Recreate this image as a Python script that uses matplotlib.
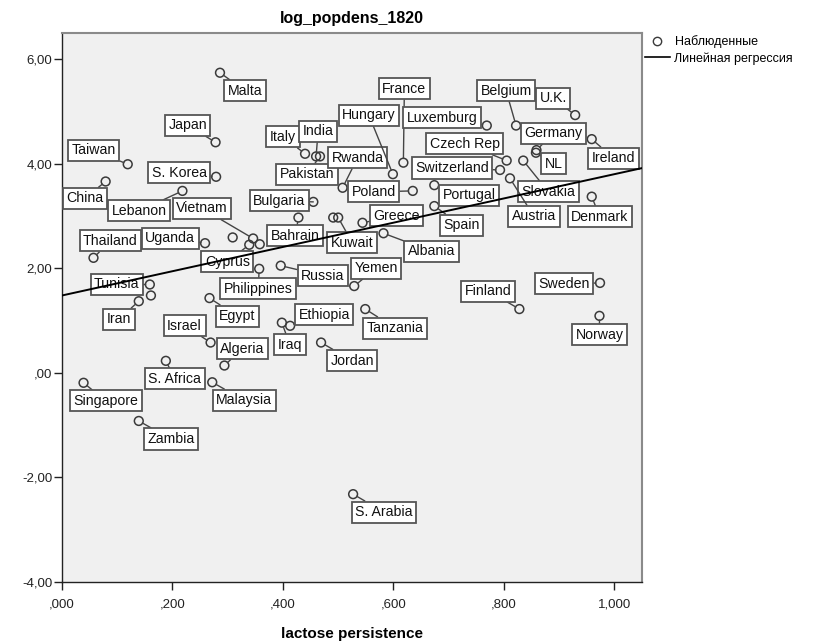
import matplotlib
matplotlib.use("Agg")
import matplotlib.pyplot as plt
from matplotlib.lines import Line2D
import numpy as np

plt.rcParams['font.family'] = ['Liberation Sans', 'DejaVu Sans']

# ---------------- data ----------------
countries = ["Malta", "Japan", "Taiwan", "S. Korea", "China", "Lebanon",
             "Italy", "India", "Pakistan", "Rwanda", "Bulgaria", "Bahrain", "Kuwait",
             "France", "Hungary", "Luxemburg", "Belgium", "U.K.", "Ireland",
             "Germany", "NL", "Czech Rep", "Switzerland", "Slovakia", "Austria",
             "Denmark", "Poland", "Portugal", "Spain", "Greece", "Albania",
             "Yemen", "Tanzania", "Finland", "Sweden", "Norway", "Jordan",
             "S. Arabia", "Thailand", "Uganda", "Vietnam", "Cyprus",
             "Philippines", "Russia", "Tunisia", "Iran", "Egypt", "Israel",
             "Algeria", "Ethiopia", "Iraq", "S. Africa", "Malaysia",
             "Singapore", "Zambia"]
lactose = [0.286, 0.278, 0.119, 0.279, 0.079, 0.218,
           0.440, 0.460, 0.467, 0.508, 0.455, 0.428, 0.500,
           0.618, 0.599, 0.769, 0.822, 0.929, 0.959,
           0.859, 0.858, 0.805, 0.793, 0.835, 0.811,
           0.959, 0.635, 0.674, 0.674, 0.544, 0.582,
           0.529, 0.549, 0.828, 0.974, 0.973, 0.469,
           0.527, 0.057, 0.259, 0.346, 0.339,
           0.357, 0.396, 0.159, 0.139, 0.267, 0.269,
           0.294, 0.413, 0.398, 0.188, 0.272,
           0.039, 0.139]
popdens = [5.74, 4.41, 3.99, 3.75, 3.66, 3.48,
           4.19, 4.14, 4.14, 3.54, 3.27, 2.97, 2.97,
           4.02, 3.80, 4.73, 4.73, 4.93, 4.47,
           4.26, 4.21, 4.06, 3.88, 4.06, 3.72,
           3.37, 3.48, 3.59, 3.19, 2.87, 2.67,
           1.66, 1.22, 1.22, 1.72, 1.09, 0.58,
           -2.32, 2.20, 2.48, 2.57, 2.45,
           1.99, 2.05, 1.69, 1.37, 1.43, 0.58,
           0.14, 0.90, 0.96, 0.23, -0.18,
           -0.19, -0.92]
# points without a visible label
unlabeled_x = [0.491, 0.309, 0.358, 0.161]
unlabeled_y = [2.97, 2.59, 2.46, 1.48]

# fitted linear regression (intercept, slope)
reg_intercept = 1.48
reg_slope = 2.32

x_ticks = [0.0, 0.2, 0.4, 0.6, 0.8, 1.0]
x_ticklabels = [",000", ",200", ",400", ",600", ",800", "1,000"]
y_ticks = [-4, -2, 0, 2, 4, 6]
y_ticklabels = ["-4,00", "-2,00", ",00", "2,00", "4,00", "6,00"]

# ---------------- layout: label offsets in pixels (dx right, dy up) ----------------
label_offsets = {
    "Malta": (25, -18), "Japan": (-28, 17), "Taiwan": (-34, 14), "S. Korea": (-37, 4),
    "China": (-21, -17), "Lebanon": (-43, -20), "Italy": (-22, 17), "India": (2, 25),
    "Pakistan": (-13, -18), "Rwanda": (15, 30), "Bulgaria": (-34, 1), "Bahrain": (-3, -18),
    "Kuwait": (14, -25), "France": (1, 74), "Hungary": (-24, 59), "Luxemburg": (-45, 8),
    "Belgium": (-10, 35), "U.K.": (-22, 17), "Ireland": (22, -19), "Germany": (17, 17),
    "NL": (18, -11), "Czech Rep": (-42, 17), "Switzerland": (-48, 2), "Slovakia": (25, -31),
    "Austria": (24, -38), "Denmark": (8, -20), "Poland": (-39, -1), "Portugal": (35, -10),
    "Spain": (27, -19), "Greece": (34, 7), "Albania": (48, -18), "Yemen": (22, 18),
    "Tanzania": (30, -19), "Finland": (-31, 18), "Sweden": (-36, -1), "Norway": (0, -19),
    "Jordan": (31, -18), "S. Arabia": (31, -18), "Thailand": (17, 17), "Uganda": (-35, 5),
    "Vietnam": (-51, 30), "Cyprus": (-22, -17), "Philippines": (-1, -20), "Russia": (42, -10),
    "Tunisia": (-33, 0), "Iran": (-20, -18), "Egypt": (28, -18), "Israel": (-26, 17),
    "Algeria": (18, 17), "Ethiopia": (34, 11), "Iraq": (8, -22), "S. Africa": (9, -18),
    "Malaysia": (32, -18), "Singapore": (22, -18), "Zambia": (32, -18),
}

# ---------------- figure ----------------
fig = plt.figure(figsize=(8.29, 6.44), dpi=100)
ax = fig.add_axes([62 / 829, 1 - 582 / 644, 580 / 829, 549 / 644])
ax.set_facecolor("#F0F0F0")
ax.set_xlim(0, 1.05)
ax.set_ylim(-4, 6.5)

marker_kw = dict(s=40, facecolors="none", edgecolors="#3a3a3a", linewidths=1.1, zorder=2)
ax.scatter(lactose, popdens, **marker_kw)
ax.scatter(unlabeled_x, unlabeled_y, **marker_kw)

for name, xv, yv in zip(countries, lactose, popdens):
    dx, dy = label_offsets[name]
    ax.annotate(name, xy=(xv, yv), xytext=(dx, dy), textcoords="offset pixels",
                ha="center", va="center", fontsize=10.2, color="#111111",
                bbox=dict(boxstyle="square,pad=0.25", facecolor="white",
                          edgecolor="#555555", linewidth=1.3),
                arrowprops=dict(arrowstyle="-", color="#444444", lw=1.0,
                                shrinkA=0, shrinkB=3),
                zorder=3)

xr = np.array(ax.get_xlim())
ax.plot(xr, reg_intercept + reg_slope * xr, color="black", lw=1.4, zorder=4)

ax.set_xticks(x_ticks)
ax.set_xticklabels(x_ticklabels)
ax.set_yticks(y_ticks)
ax.set_yticklabels(y_ticklabels)
ax.tick_params(direction="out", length=6, width=1, colors="#222222",
               labelsize=9.5, labelcolor="#222222")
ax.tick_params(axis="x", pad=6)
ax.tick_params(axis="y", pad=1)
for s in ["left", "bottom"]:
    ax.spines[s].set_color("#222222")
    ax.spines[s].set_linewidth(1.0)
for s in ["top", "right"]:
    ax.spines[s].set_color("#8a8a8a")
    ax.spines[s].set_linewidth(1.5)

ax.set_title("log_popdens_1820", fontsize=11.5, fontweight="bold", pad=7)
ax.set_xlabel("lactose persistence", fontsize=11, fontweight="bold", labelpad=12)

handles = [Line2D([], [], linestyle="none", marker="o", markerfacecolor="none",
                  markeredgecolor="#3a3a3a", markersize=6),
           Line2D([], [], color="black", lw=1.2)]
leg = ax.legend(handles, ["Наблюденные", "Линейная регрессия"],
                loc="upper left", bbox_to_anchor=(1.0, 1.0), frameon=False,
                fontsize=9, handlelength=2.0, handletextpad=0.4,
                borderaxespad=0.0, borderpad=0.2, labelspacing=0.3)

fig.savefig("out.png", dpi=100, facecolor="white")
